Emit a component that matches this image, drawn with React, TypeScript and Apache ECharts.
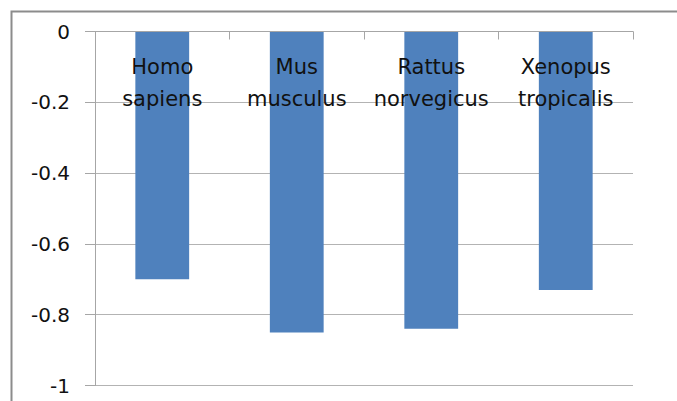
import React, { useEffect, useRef } from "react";
import * as echarts from "echarts";

const categories = ["Homo\nsapiens", "Mus\nmusculus", "Rattus\nnorvegicus", "Xenopus\ntropicalis"];
const values = [-0.7, -0.85, -0.84, -0.73];
const yMin = -1;
const yMax = 0;
const yStep = 0.2;

export default function App() {
  const ref = useRef<HTMLDivElement>(null);
  useEffect(() => {
    const chart = echarts.init(ref.current!, null, { renderer: "svg" });
    chart.setOption({
      animation: false,
      backgroundColor: "#ffffff",
      textStyle: { fontFamily: "DejaVu Sans" },
      graphic: [
        {
          type: "rect",
          shape: { x: 11.5, y: 11.5, width: 720, height: 420 },
          style: { fill: "none", stroke: "#8c8c8c", lineWidth: 2 },
          silent: true,
        },
      ],
      grid: { left: 95, top: 31.5, right: 44, bottom: 15.5 },
      xAxis: {
        type: "category",
        position: "top",
        z: 10,
        data: categories,
        axisLine: { show: true, lineStyle: { color: "#a6a6a6", width: 1 } },
        axisTick: { show: true, inside: true, length: 8, lineStyle: { color: "#a6a6a6" } },
        axisLabel: {
          inside: true,
          interval: 0,
          margin: 20,
          fontSize: 21,
          lineHeight: 31.5,
          color: "#111",
          fontFamily: "DejaVu Sans",
        },
        splitLine: { show: false },
      },
      yAxis: {
        type: "value",
        min: yMin,
        max: yMax,
        interval: yStep,
        axisLine: { show: true, lineStyle: { color: "#a6a6a6", width: 1 } },
        axisTick: { show: true, length: 10, lineStyle: { color: "#a6a6a6" } },
        axisLabel: {
          margin: 25,
          fontSize: 20,
          color: "#111",
          fontFamily: "DejaVu Sans",
          formatter: (v: number) => (Math.abs(v) < 1e-9 ? "0" : String(Math.round(v * 10) / 10)),
        },
        splitLine: { show: true, lineStyle: { color: "#b3b3b3", width: 1 } },
      },
      series: [
        {
          type: "bar",
          data: values,
          barWidth: "40%",
          itemStyle: { color: "#4f81bd" },
        },
      ],
    });
    return () => chart.dispose();
  }, []);
  return (
    <div
      ref={ref}
      style={{ position: "fixed", left: 0, top: 0, width: 677, height: 401 }}
    />
  );
}
